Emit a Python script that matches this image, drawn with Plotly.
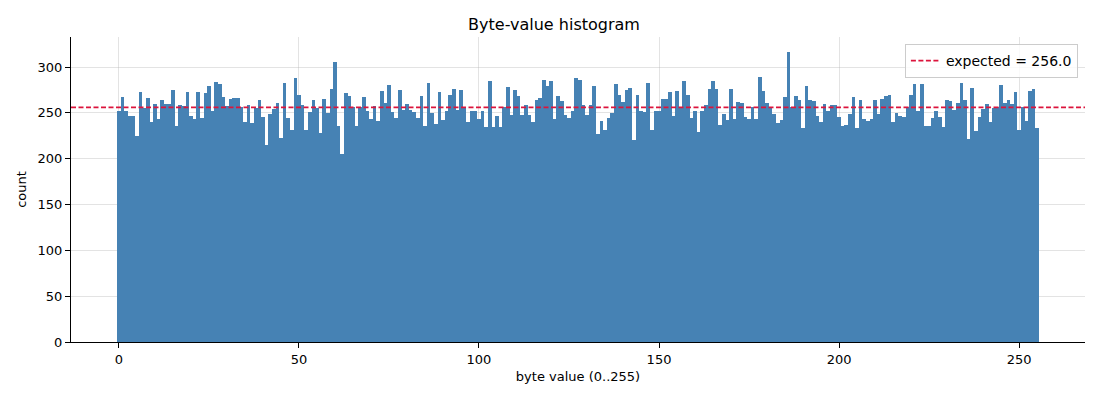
import plotly.graph_objects as go

# byte value counts (0..255)
counts = [
    252, 267, 252, 247, 247, 225, 273, 255, 266, 240, 260, 243, 264, 260, 260, 275,
    236, 259, 257, 273, 247, 243, 273, 244, 272, 279, 252, 284, 281, 267, 257, 265,
    266, 266, 256, 240, 259, 239, 255, 264, 245, 215, 249, 254, 261, 223, 283, 244,
    231, 288, 269, 259, 231, 251, 264, 255, 228, 265, 250, 276, 306, 236, 205, 272,
    268, 256, 236, 256, 267, 252, 243, 257, 241, 274, 261, 280, 251, 244, 275, 253,
    260, 253, 251, 244, 268, 236, 283, 250, 238, 273, 242, 252, 269, 276, 253, 275,
    256, 240, 252, 252, 243, 252, 235, 285, 235, 247, 235, 256, 278, 248, 275, 268,
    248, 259, 248, 240, 264, 266, 286, 279, 285, 243, 268, 263, 248, 244, 252, 288,
    286, 259, 248, 259, 279, 227, 241, 231, 244, 250, 281, 270, 262, 275, 277, 220,
    269, 252, 251, 283, 231, 252, 252, 265, 265, 273, 247, 274, 255, 285, 269, 244,
    252, 229, 252, 259, 276, 285, 276, 237, 249, 242, 276, 243, 262, 261, 245, 243,
    256, 243, 289, 274, 261, 256, 249, 239, 242, 267, 316, 256, 268, 264, 233, 279,
    264, 263, 247, 240, 260, 252, 259, 259, 245, 236, 237, 249, 267, 233, 264, 243,
    241, 243, 264, 249, 265, 268, 269, 240, 250, 247, 245, 256, 269, 281, 252, 281,
    236, 236, 244, 252, 245, 235, 264, 263, 253, 261, 283, 264, 221, 277, 230, 245,
    254, 260, 240, 255, 256, 280, 261, 264, 260, 273, 231, 256, 241, 274, 276, 233,
]
byte_values = list(range(256))
expected = 256.0

# bins are centred on each byte value, axes padded by 5% like matplotlib
x_range = [-0.5 - 12.8, 255.5 + 12.8]
y_max = max(counts) * 1.053

fig = go.Figure()

fig.add_trace(go.Bar(
    x=byte_values, y=counts, width=1,
    marker=dict(color="steelblue", line=dict(width=0)),
    showlegend=False, hoverinfo="x+y",
))

fig.add_trace(go.Scatter(
    x=x_range, y=[expected, expected], mode="lines",
    line=dict(color="crimson", width=1.7, dash="5px,2.5px"),
    name=f"expected = {expected}",
))

axis_common = dict(
    showline=True, linecolor="black", linewidth=1,
    ticks="outside", ticklen=5, tickcolor="black", tickwidth=1,
    showgrid=True, gridcolor="rgba(176,176,176,0.35)", gridwidth=1,
    zeroline=False, mirror=False, layer="above traces",
    tickfont=dict(size=13, color="black"),
)

# the page body adds an 8px offset, so the figure is a bit smaller than the window
fig.update_layout(
    width=1092, height=392,
    margin=dict(l=63, r=15, t=29, b=58),
    plot_bgcolor="white", paper_bgcolor="white",
    font=dict(family="DejaVu Sans", color="black"),
    title=dict(text="Byte-value histogram", x=0.5, xanchor="center",
               y=0.959, yanchor="middle", font=dict(size=16)),
    bargap=0,
    legend=dict(x=0.993, y=0.977, xanchor="right", yanchor="top",
                bgcolor="rgba(255,255,255,0.8)", bordercolor="#cccccc",
                borderwidth=1, font=dict(size=14)),
)

fig.update_xaxes(range=x_range, tickvals=[0, 50, 100, 150, 200, 250],
                 title=dict(text="byte value (0..255)", font=dict(size=13), standoff=6),
                 **axis_common)
fig.update_yaxes(range=[0, y_max], tickvals=[0, 50, 100, 150, 200, 250, 300],
                 title=dict(text="count", font=dict(size=13), standoff=8),
                 **axis_common)

fig.write_html("out.html")
